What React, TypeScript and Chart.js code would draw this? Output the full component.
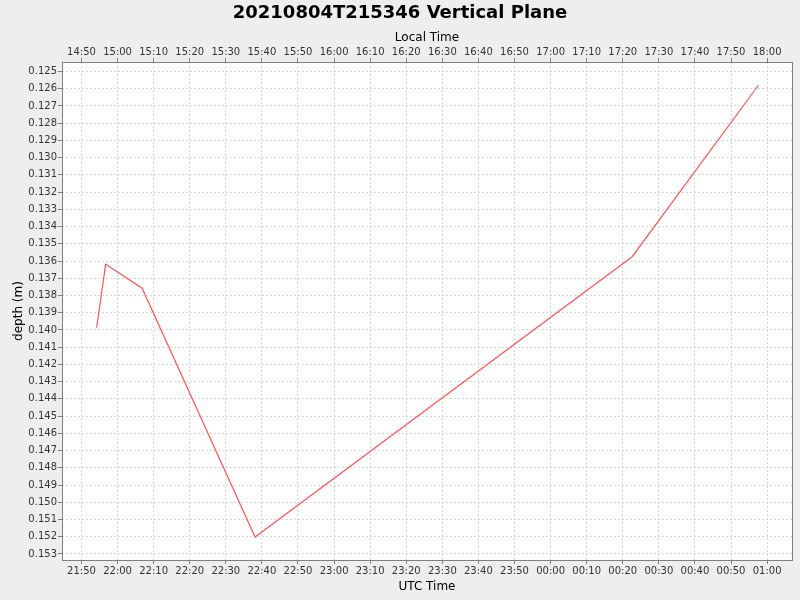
import { useEffect, useRef } from "react";
import { Chart, registerables, type ChartConfiguration, type Plugin, type Scale } from "chart.js";

Chart.register(...registerables);

// samples (UTC clock time, depth in metres)
const utcTimes = ["21:54:12", "21:56:42", "22:06:48", "22:38:06", "00:22:36", "00:57:36"];
const depths = [0.13987, 0.13619, 0.13758, 0.15202, 0.13575, 0.1258];

// visible window
const utcStart = "21:44:36";
const utcEnd = "01:06:54";
const depthTop = 0.12445;
const depthBottom = 0.15335;

const localOffsetMin = -7 * 60;
const timeStepMin = 10;
const depthStep = 0.001;

const FONT = "'DejaVu Sans', sans-serif";
const TICK_COLOR = "#808080";
const GRID_COLOR = "#d6d6d6";

function toMinutes(t: string): number {
  const [h, m, s] = t.split(":").map(Number);
  const v = h * 60 + m + (s || 0) / 60;
  return h < 12 ? v + 1440 : v; // past midnight -> next day
}

function hhmm(v: number): string {
  const day = ((Math.round(v) % 1440) + 1440) % 1440;
  const h = Math.floor(day / 60);
  const m = day % 60;
  return `${String(h).padStart(2, "0")}:${String(m).padStart(2, "0")}`;
}

const xMin = toMinutes(utcStart);
const xMax = toMinutes(utcEnd);

function keepTimeTicks(scale: Scale) {
  scale.ticks = scale.ticks.filter(
    (t) => t.value >= xMin && t.value <= xMax && Math.abs(t.value / timeStepMin - Math.round(t.value / timeStepMin)) < 1e-6
  );
}

function keepDepthTicks(scale: Scale) {
  scale.ticks = scale.ticks.filter(
    (t) =>
      t.value >= depthTop &&
      t.value <= depthBottom &&
      Math.abs(t.value / depthStep - Math.round(t.value / depthStep)) < 1e-6
  );
}

const plotFrame: Plugin = {
  id: "plotFrame",
  beforeDraw(chart) {
    const { ctx, chartArea: a, width, height } = chart;
    ctx.save();
    ctx.fillStyle = "#eeeeee";
    ctx.fillRect(0, 0, width, height);
    ctx.fillStyle = "#ffffff";
    ctx.fillRect(a.left, a.top, a.right - a.left, a.bottom - a.top);
    ctx.restore();
  },
  afterDraw(chart) {
    const { ctx, chartArea: a } = chart;
    ctx.save();
    ctx.strokeStyle = TICK_COLOR;
    ctx.lineWidth = 1;
    ctx.strokeRect(a.left + 0.5, a.top + 0.5, a.right - a.left, a.bottom - a.top);
    ctx.restore();
  },
};

const tickFont = { family: FONT, size: 10 };
const labelFont = { family: FONT, size: 12 };

const gridCommon = {
  color: GRID_COLOR,
  tickColor: TICK_COLOR,
  tickLength: 4,
  tickBorderDash: [],
};

export default function App() {
  const canvasRef = useRef<HTMLCanvasElement>(null);

  useEffect(() => {
    document.body.style.margin = "0";
    const canvas = canvasRef.current;
    if (!canvas) return;

    const config: ChartConfiguration<"line"> = {
      type: "line",
      data: {
        datasets: [
          {
            label: "depth",
            data: utcTimes.map((t, i) => ({ x: toMinutes(t), y: depths[i] })),
            borderColor: "#ff5555",
            borderWidth: 1.2,
            pointRadius: 0,
            tension: 0,
            fill: false,
          },
        ],
      },
      options: {
        responsive: false,
        animation: false,
        layout: { padding: 0 },
        plugins: {
          legend: { display: false },
          tooltip: { enabled: false },
          title: {
            display: true,
            text: "20210804T215346 Vertical Plane",
            color: "#000000",
            font: { family: FONT, size: 18, weight: "bold" },
            padding: { top: 3, bottom: 0 },
          },
        },
        scales: {
          x: {
            type: "linear",
            position: "bottom",
            min: xMin,
            max: xMax,
            afterFit: (s) => { s.height = 40; },
            afterBuildTicks: keepTimeTicks,
            ticks: {
              stepSize: timeStepMin,
              includeBounds: false,
              autoSkip: false,
              maxRotation: 0,
              padding: 1,
              color: "#333333",
              font: tickFont,
              callback: (v) => hhmm(Number(v)),
            },
            grid: { ...gridCommon },
            border: { display: false, dash: [2, 2] },
            title: { display: true, text: "UTC Time", color: "#000000", font: labelFont, padding: { top: 0, bottom: 6 } },
          },
          xTop: {
            type: "linear",
            axis: "x",
            position: "top",
            min: xMin,
            max: xMax,
            afterFit: (s) => { s.height = 37.4; },
            afterBuildTicks: keepTimeTicks,
            ticks: {
              stepSize: timeStepMin,
              includeBounds: false,
              autoSkip: false,
              maxRotation: 0,
              padding: 0,
              color: "#333333",
              font: tickFont,
              callback: (v) => hhmm(Number(v) + localOffsetMin),
            },
            grid: { ...gridCommon, drawOnChartArea: false },
            border: { display: false },
            title: { display: true, text: "Local Time", color: "#000000", font: labelFont, padding: { top: 6, bottom: 0 } },
          },
          y: {
            type: "linear",
            position: "left",
            reverse: true,
            min: depthTop,
            max: depthBottom,
            afterFit: (s) => { s.width = 62; },
            afterBuildTicks: keepDepthTicks,
            ticks: {
              stepSize: depthStep,
              includeBounds: false,
              autoSkip: false,
              padding: 1,
              color: "#333333",
              font: tickFont,
              callback: (v) => Number(v).toFixed(3),
            },
            grid: { ...gridCommon },
            border: { display: false, dash: [2, 2] },
            title: { display: true, text: "depth (m)", color: "#000000", font: labelFont, padding: { top: 12, bottom: 0 } },
          },
          yRight: {
            type: "linear",
            axis: "y",
            position: "right",
            display: true,
            afterFit: (s) => { s.width = 8; },
            ticks: { display: false },
            grid: { display: false },
            border: { display: false },
          },
        },
      },
      plugins: [plotFrame],
    };

    const chart = new Chart(canvas, config);
    return () => chart.destroy();
  }, []);

  return (
    <div style={{ width: 800, height: 600 }}>
      <canvas ref={canvasRef} width={800} height={600} style={{ display: "block" }} />
    </div>
  );
}
